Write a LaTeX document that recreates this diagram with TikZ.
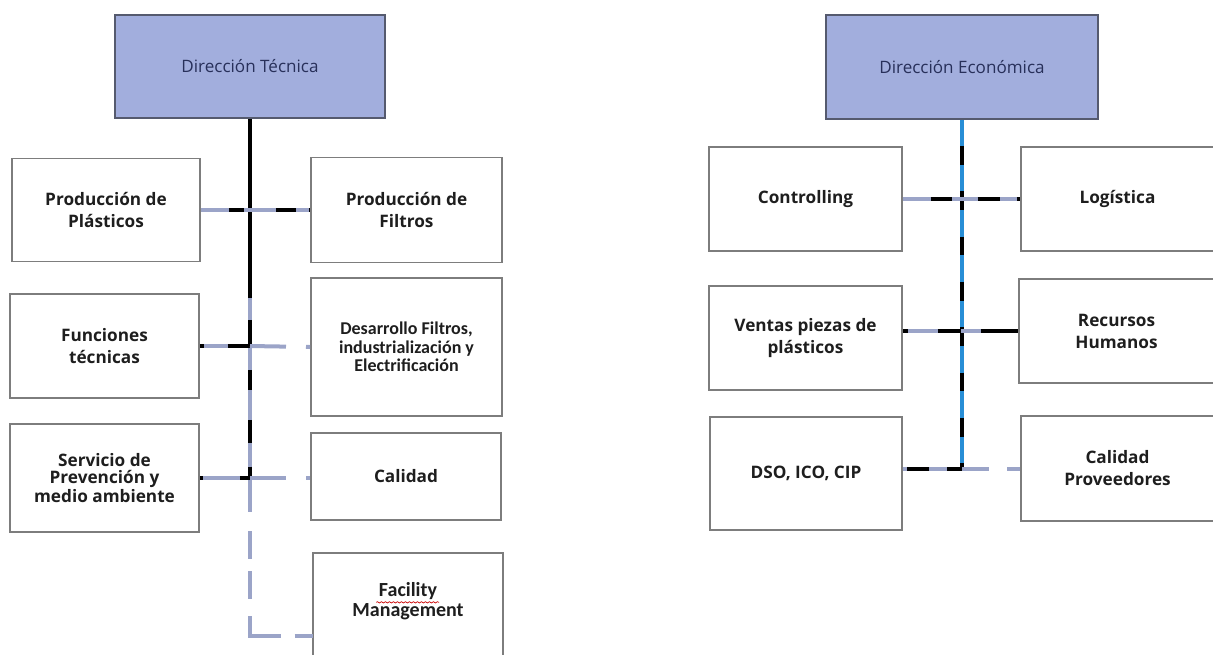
\documentclass[tikz,border=0pt]{standalone}
\usepackage{fontspec}
\setmainfont{Open Sans}
\newfontfamily\carfont{Carlito}
\usetikzlibrary{decorations.pathmorphing}
\definecolor{headfill}{RGB}{162,174,221}
\definecolor{headdraw}{RGB}{85,90,110}
\definecolor{headtxt}{RGB}{40,48,90}
\definecolor{boxgray}{RGB}{125,125,125}
\definecolor{txt}{RGB}{30,30,30}
\definecolor{lgray}{RGB}{155,164,200}
\definecolor{tblue}{RGB}{40,142,214}
\begin{document}
\begin{tikzpicture}[x=0.75pt,y=-0.75pt,
  box/.style={draw=boxgray, line width=1.4pt, fill=white, inner sep=0pt, align=center,
    font=\bfseries\fontsize{12.9}{16.5}\selectfont, text=txt},
  sz/.style 2 args={minimum width=#1*0.75pt, minimum height=#2*0.75pt},
  head/.style={box, fill=headfill, draw=headdraw, font=\fontsize{12.8}{15}\selectfont, text=headtxt},
  cal/.style={font=\carfont\bfseries\fontsize{13.5}{14}\selectfont},
  base/.style={line width=3pt, draw=lgray},
  blk/.style={line width=3pt, draw=black},
  tr/.style={line width=3pt, draw=tblue}]
\useasboundingbox (0,0) rectangle (1213,654);
% ---------- left chart ----------
\node[head, sz={270}{103}] (DT) at (250,66.5) {Dirección Técnica};
\node[box, sz={188}{103}] (PP) at (106,210) {Producción de\\Plásticos};
\node[box, sz={191}{105}] (PF) at (406.5,210) {Producción de\\Filtros};
\node[box, sz={189}{104}] (FT) at (104.5,346) {Funciones\\técnicas};
\node[box, cal, sz={191}{138}] (DF) at (406.5,347) {Desarrollo Filtros,\\industrialización y\\Electrificación};
\node[box, sz={189}{108}, font=\bfseries\fontsize{12.9}{12.8}\selectfont] (SV) at (104.5,478) {Servicio de\\Prevención y\\medio ambiente};
\node[box, sz={190}{87}] (CA) at (406,476.5) {Calidad};
\draw[draw=boxgray, line width=1.4pt, fill=white] (313,553) rectangle (503,700);
\node[align=center, text=txt, inner sep=0pt, font=\carfont\bfseries\fontsize{15}{14.5}\selectfont] (FM) at (408,601) {Facility\\Management};
\draw[red!80!black, line width=0.5pt, decorate, decoration={snake, amplitude=0.5pt, segment length=3pt}]
  ([yshift=-1pt]FM.west |- FM.center) ++(24,0) -- ++(63,0);
\coordinate (fmw) at (313,636);
\coordinate (jFT) at (DT.south |- FT.east);
\coordinate (jSV) at (DT.south |- SV.east);
\coordinate (jFM) at (DT.south |- fmw);
% trunk
\draw[base] (DT.south) -- (jFT);
\draw[blk, dash pattern=on 134pt off 17pt on 25pt] (DT.south) -- (jFT);
\draw[base] (jFT) -- (jSV);
\draw[blk, dash pattern=on 0pt off 18pt on 15pt off 22.5pt on 17pt off 18pt on 9pt off 20pt] (jFT) -- (jSV);
\draw[base, dash pattern=on 25.5pt off 14.25pt on 21pt off 9pt on 21pt off 12.75pt on 38pt off 10.5pt on 14pt] (jSV) -- (jFM) -- (fmw);
% branches
\draw[base] (PP.east) -- (PF.west);
\draw[blk, dash pattern=on 0pt off 21pt on 11.25pt off 24pt on 15pt off 9.75pt on 3pt off 5pt] (PP.east) -- (PF.west);
\draw[base] (FT.east) -- (jFT);
\draw[blk, dash pattern=on 3pt off 18pt on 22pt] (FT.east) -- (jFT);
\draw[base, dash pattern=on 27pt off 15pt on 5pt] (jFT) -- (DF.west);
\draw[base] (SV.east) -- (jSV);
\draw[blk, dash pattern=on 2pt off 28pt on 11pt] (SV.east) -- (jSV);
\draw[base, dash pattern=on 27pt off 15pt on 5pt] (jSV) -- (jSV -| CA.west);
% ---------- right chart ----------
\node[head, sz={272}{104}] (DE) at (962,67) {Dirección Económica};
\node[box, sz={193}{104}] (CO) at (805.5,199) {Controlling};
\node[box, sz={193}{104}] (LO) at (1117.5,199) {Logística};
\node[box, sz={193}{104}] (VE) at (805.5,338) {Ventas piezas de\\plásticos};
\node[box, sz={195}{104}] (RH) at (1116.5,331) {Recursos\\Humanos};
\node[box, sz={192}{113}] (DSO) at (806,473.5) {DSO, ICO, CIP};
\node[box, sz={193}{105}] (CP) at (1117.5,468.5) {Calidad\\Proveedores};
\coordinate (jD) at (DE.south |- CP.west);
\draw[tr] (DE.south) -- (jD);
\draw[blk, dash pattern=on 14pt off 20pt, dash phase=14.5pt] (DE.south) -- (jD);
\draw[base] (jD) -- (jD -| DSO.east);
\draw[blk, dash pattern=on 11pt off 13.5pt on 17pt off 4pt on 4pt] (jD) -- (jD -| DSO.east);
\draw[base, dash pattern=on 20pt off 14pt on 10pt] (jD) -- (CP.west);
\draw[base] (CO.east) -- (LO.west);
\draw[blk, dash pattern=on 0pt off 21pt on 16pt off 19pt on 16.5pt off 13pt on 4pt off 5pt] (CO.east) -- (LO.west);
\draw[base] (VE.east |- RH.west) -- (RH.west);
\draw[blk, dash pattern=on 3.75pt off 22.5pt on 17.25pt off 15pt on 27.75pt off 5pt] (VE.east |- RH.west) -- (RH.west);
\end{tikzpicture}
\end{document}
